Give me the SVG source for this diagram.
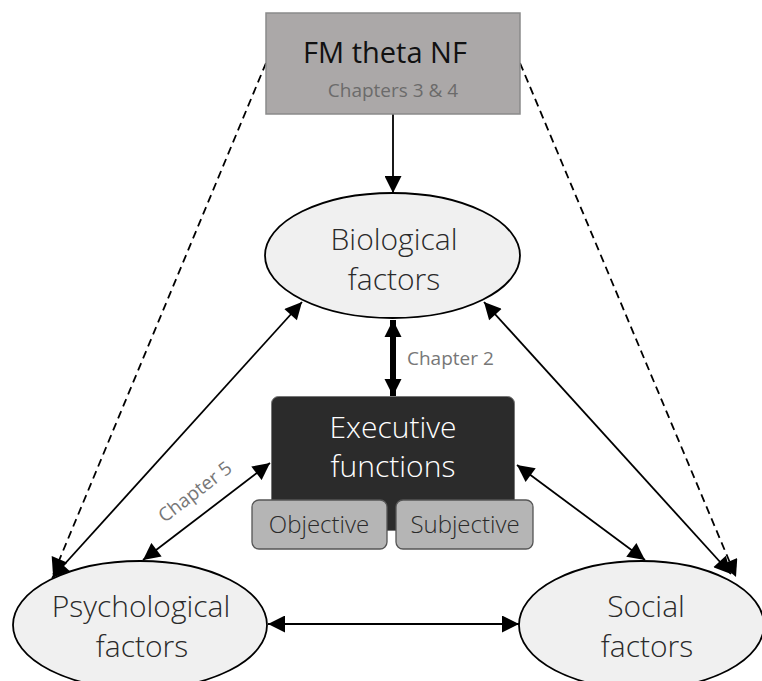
<svg xmlns="http://www.w3.org/2000/svg" width="762" height="681" viewBox="0 0 762 681">
<style>
.t{font-family:"Open Sans","Noto Sans","DejaVu Sans",sans-serif;text-anchor:middle}
.big{font-size:30px;fill:#2a2a2a;font-weight:300}
.lab{font-size:19px;fill:#777777}
.sub{font-size:24px;fill:#2a2a2a;font-weight:300}
.ell{fill:#f0f0f0;stroke:#000;stroke-width:1.8}
.ln{stroke:#000;stroke-width:1.8;fill:none}
.dash{stroke-dasharray:8 5}
</style>
<defs>
<marker id="ah" viewBox="0 0 10 10" refX="10" refY="5" markerWidth="19" markerHeight="17" markerUnits="userSpaceOnUse" orient="auto-start-reverse">
<path d="M0,0 L10,5 L0,10 z" fill="#000"/>
</marker>
<marker id="ahb" viewBox="0 0 10 10" refX="10" refY="5" markerWidth="17" markerHeight="23" markerUnits="userSpaceOnUse" orient="auto-start-reverse">
<path d="M0,0 L10,5 L0,10 z" fill="#000"/>
</marker>
</defs>
<rect width="762" height="681" fill="#fff"/>
<g id="connectors">
<line class="ln" x1="393" y1="114" x2="393" y2="193" marker-end="url(#ah)"/>
<line x1="393" y1="320" x2="393" y2="396" stroke="#000" stroke-width="6" marker-start="url(#ahb)" marker-end="url(#ahb)"/>
<line class="ln dash" x1="266" y1="63" x2="53" y2="575" marker-end="url(#ah)"/>
<line class="ln dash" x1="520" y1="63" x2="736" y2="577" marker-end="url(#ah)"/>
<line class="ln" x1="302" y1="302" x2="52" y2="578" marker-start="url(#ah)" marker-end="url(#ah)"/>
<line class="ln" x1="484" y1="302" x2="731" y2="574" marker-start="url(#ah)" marker-end="url(#ah)"/>
<line class="ln" x1="270" y1="463" x2="143" y2="560" marker-start="url(#ah)" marker-end="url(#ah)"/>
<line class="ln" x1="517" y1="465" x2="645" y2="560" marker-start="url(#ah)" marker-end="url(#ah)"/>
<line class="ln" x1="268" y1="624" x2="519" y2="624" marker-start="url(#ah)" marker-end="url(#ah)"/>
<text class="t lab" x="407" y="365" style="text-anchor:start">Chapter 2</text>
<text class="t lab" transform="translate(199,497) rotate(-37.4)">Chapter 5</text>
</g>
<g id="fm">
<rect x="266" y="13" width="254" height="101" fill="#aba8a8" stroke="#8a8a8a" stroke-width="1.5"/>
<text class="t" x="385" y="63" style="font-size:29px;fill:#111">FM theta NF</text>
<text class="t lab" x="393" y="97" style="fill:#6b6b6b">Chapters 3 &amp; 4</text>
</g>
<g id="bio">
<ellipse class="ell" cx="392.5" cy="255.5" rx="127.5" ry="62.5"/>
<text class="t big" x="394" y="250">Biological</text>
<text class="t big" x="394" y="290">factors</text>
</g>
<g id="exec">
<rect x="271.5" y="396.5" width="243" height="134" rx="7" fill="#2b2b2b" stroke="#777" stroke-width="1"/>
<text class="t big" x="393" y="438" style="fill:#fff">Executive</text>
<text class="t big" x="393" y="477" style="fill:#fff">functions</text>
</g>
<g id="objective">
<rect x="252" y="500" width="135" height="49" rx="7" fill="#b5b5b5" stroke="#555" stroke-width="1.3"/>
<text class="t sub" x="319" y="533">Objective</text>
</g>
<g id="subjective">
<rect x="396" y="500" width="137" height="49" rx="7" fill="#b5b5b5" stroke="#555" stroke-width="1.3"/>
<text class="t sub" x="465" y="533">Subjective</text>
</g>
<g id="psych">
<ellipse class="ell" cx="140" cy="625" rx="127" ry="64"/>
<text class="t big" x="141" y="617">Psychological</text>
<text class="t big" x="142" y="657">factors</text>
</g>
<g id="social">
<ellipse class="ell" cx="641.5" cy="625" rx="122.5" ry="64"/>
<text class="t big" x="646" y="617">Social</text>
<text class="t big" x="647" y="657">factors</text>
</g>
</svg>
